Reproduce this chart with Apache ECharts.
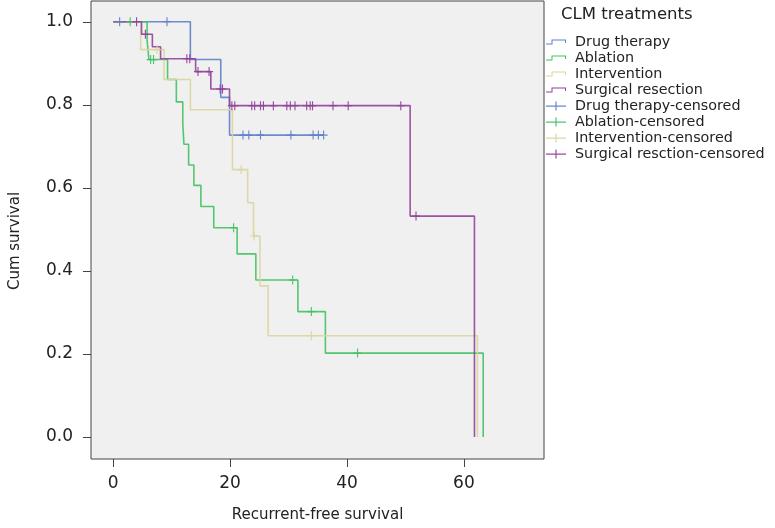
<!DOCTYPE html>
<html>
<head>
<meta charset="utf-8">
<script src="https://cdn.jsdelivr.net/npm/echarts@6/dist/echarts.min.js"></script>
<style>
  html, body { margin: 0; padding: 0; background: #fff; }
  #chart { width: 775px; height: 528px; }
</style>
</head>
<body>
<div id="chart"></div>
<script>
// Kaplan-Meier steps: time (months) and survival after each drop
const drugT = [0, 13.2, 18.4, 19.9, 36.0];
const drugS = [1, 0.909, 0.818, 0.727, 0.727];
const drugCens = [1.1, 9.2, 22.2, 23.2, 25.2, 30.4, 34.2, 35.1, 36.0];

const ablT = [0, 5.8, 6.1, 9.3, 10.8, 11.9, 12.1, 12.9, 13.8, 15.0, 17.2, 21.2, 24.4, 31.6, 36.3, 63.3];
const ablS = [1, 0.955, 0.909, 0.861, 0.807, 0.755, 0.705, 0.655, 0.606, 0.555, 0.504, 0.441, 0.378, 0.302, 0.202, 0];
const ablCens = [2.9, 6.4, 6.9, 20.6, 30.7, 33.9, 41.8];

const intT = [0, 4.7, 8.7, 13.2, 20.4, 23.0, 24.0, 25.1, 26.5, 62.3];
const intS = [1, 0.933, 0.861, 0.788, 0.644, 0.564, 0.484, 0.364, 0.244, 0];
const intCens = [7.5, 21.9, 24.1, 33.9];

const surgT = [0, 4.85, 6.7, 8.1, 14.1, 16.7, 19.9, 50.8, 61.8];
const surgS = [1, 0.970, 0.940, 0.911, 0.880, 0.838, 0.798, 0.532, 0];
const surgCens = [4.0, 5.5, 12.6, 13.1, 14.5, 16.4, 18.3, 18.7, 20.3, 20.8, 23.7, 24.2, 25.2, 25.7,
  27.4, 29.7, 30.3, 31.1, 33.1, 33.7, 34.1, 37.6, 40.2, 49.2, 51.8];

const groups = ["Drug therapy", "Ablation", "Intervention", "Surgical resection"];
const censNames = ["Drug therapy-censored", "Ablation-censored", "Intervention-censored", "Surgical resction-censored"];
const xTicks = [0, 20, 40, 60];
const yTicks = [0, 0.2, 0.4, 0.6, 0.8, 1.0];

const colors = ["#5f7fc9", "#43c160", "#dbd59e", "#91429a"];
const FONT = "DejaVu Sans";

const stepIcon = "path://M0,4 L5.5,4 L5.5,0 L20,0 L20,3.5 L19,3.5 L19,1 L6.5,1 L6.5,5 L0,5 Z";
const plusIcon = "path://M0,4 L20,4 L20,5.2 L0,5.2 Z M9.4,0 L10.6,0 L10.6,9 L9.4,9 Z";
const plusMark = "path://M0,4.35 L10,4.35 L10,5.65 L0,5.65 Z M4.3,0 L5.7,0 L5.7,10 L4.3,10 Z";

function toPairs(ts, ss) {
  return ts.map((t, i) => [t, ss[i]]);
}

// survival value of the step curve at time t
function survAt(ts, ss, t) {
  let v = ss[0];
  for (let i = 0; i < ts.length; i++) {
    if (ts[i] <= t) v = ss[i];
  }
  return v;
}

const curves = [[drugT, drugS], [ablT, ablS], [intT, intS], [surgT, surgS]];
const censors = [drugCens, ablCens, intCens, surgCens];

const chart = echarts.init(document.getElementById("chart"));

const series = [];
curves.forEach((c, i) => {
  series.push({
    name: groups[i],
    type: "line",
    step: "end",
    showSymbol: false,
    data: toPairs(c[0], c[1]),
    lineStyle: { width: 1.6, color: colors[i], opacity: 0.9 },
    itemStyle: { color: colors[i] },
    z: 2 + i
  });
});
censors.forEach((cs, i) => {
  series.push({
    name: censNames[i],
    type: "scatter",
    symbol: plusMark,
    symbolSize: [8, 9],
    data: cs.map(t => [t, survAt(curves[i][0], curves[i][1], t)]),
    itemStyle: { color: colors[i], opacity: 0.95 },
    z: 6 + i
  });
});

const option = {
  backgroundColor: "#ffffff",
  animation: false,
  title: {
    text: "CLM treatments",
    left: 556,
    top: 1,
    textStyle: { fontFamily: FONT, fontSize: 16.5, fontWeight: "normal", color: "#222" }
  },
  legend: {
    orient: "vertical",
    left: 546,
    top: 35,
    padding: 0,
    itemWidth: 20,
    itemHeight: 9,
    itemGap: 2,
    textStyle: { fontFamily: FONT, fontSize: 14.3, color: "#222", lineHeight: 13, padding: [0, 0, 0, 4] },
    data: groups.map(n => ({ name: n, icon: stepIcon }))
      .concat(censNames.map(n => ({ name: n, icon: plusIcon })))
  },
  grid: {
    left: 85,
    right: 231,
    top: 1,
    bottom: 68,
    show: true,
    backgroundColor: "#f0f0f0",
    borderColor: "#444",
    borderWidth: 1
  },
  xAxis: {
    type: "value",
    min: -3.8,
    max: 73.7,
    name: "Recurrent-free survival",
    nameLocation: "middle",
    nameGap: 49,
    nameTextStyle: { fontFamily: FONT, fontSize: 15, color: "#222" },
    axisLine: { show: false, onZero: false },
    axisTick: { show: true, length: 8, customValues: xTicks, lineStyle: { color: "#444" } },
    axisLabel: { customValues: xTicks, margin: 16, fontFamily: FONT, fontSize: 17, color: "#222" },
    splitLine: { show: false }
  },
  yAxis: {
    type: "value",
    min: -0.053,
    max: 1.05,
    name: "Cum survival",
    nameLocation: "middle",
    nameGap: 68,
    nameTextStyle: { fontFamily: FONT, fontSize: 15, color: "#222", padding: [0, 22, 0, 0] },
    axisLine: { show: false, onZero: false },
    axisTick: { show: true, length: 8, customValues: yTicks, lineStyle: { color: "#444" } },
    axisLabel: {
      customValues: yTicks, margin: 18, fontFamily: FONT, fontSize: 17, color: "#222",
      formatter: v => v.toFixed(1)
    },
    splitLine: { show: false }
  },
  series: series
};

chart.setOption(option);
</script>
</body>
</html>
